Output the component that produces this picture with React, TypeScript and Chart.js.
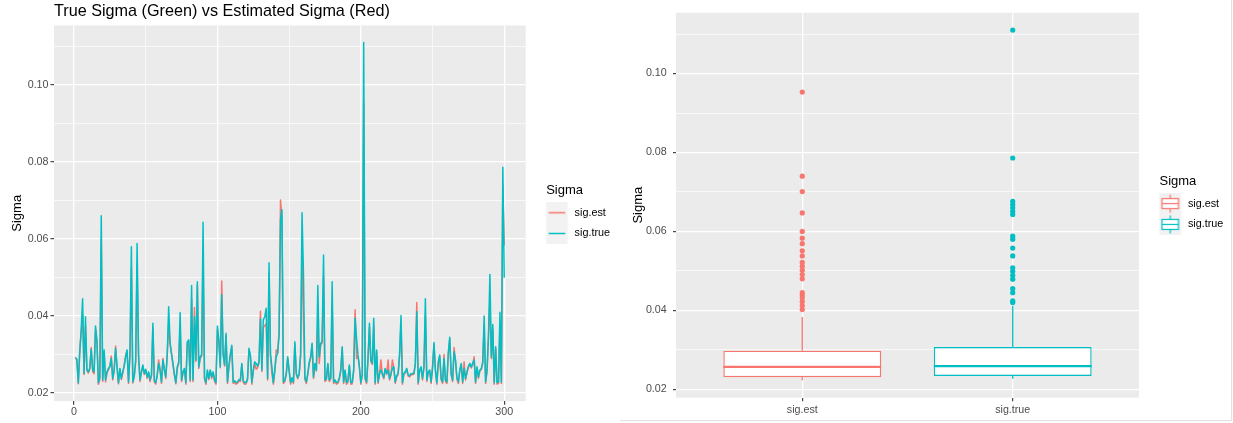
import React, { useEffect, useRef } from 'react';
import { Chart, registerables } from 'chart.js';

Chart.register(...registerables);

// ---------------- data ----------------
const sigTrue = [
  0.0293, 0.0286, 0.0227, 0.0305, 0.0365, 0.0445, 0.0251, 0.0398, 0.0262, 0.0255,
  0.0265, 0.0314, 0.0262, 0.0255, 0.0374, 0.0336, 0.0227, 0.0240, 0.0660, 0.0234,
  0.0312, 0.0234, 0.0255, 0.0264, 0.0268, 0.0290, 0.0238, 0.0260, 0.0316, 0.0270,
  0.0227, 0.0264, 0.0238, 0.0255, 0.0270, 0.0294, 0.0312, 0.0229, 0.0300, 0.0580,
  0.0229, 0.0245, 0.0285, 0.0588, 0.0300, 0.0234, 0.0255, 0.0273, 0.0251, 0.0262,
  0.0242, 0.0255, 0.0234, 0.0247, 0.0381, 0.0233, 0.0227, 0.0245, 0.0277, 0.0260,
  0.0229, 0.0286, 0.0262, 0.0242, 0.0300, 0.0424, 0.0330, 0.0303, 0.0277, 0.0250,
  0.0227, 0.0268, 0.0280, 0.0409, 0.0234, 0.0255, 0.0264, 0.0227, 0.0333, 0.0338,
  0.0234, 0.0479, 0.0234, 0.0398, 0.0286, 0.0489, 0.0268, 0.0294, 0.0300, 0.0643,
  0.0240, 0.0227, 0.0260, 0.0238, 0.0260, 0.0242, 0.0255, 0.0235, 0.0227, 0.0374,
  0.0338, 0.0268, 0.0455, 0.0300, 0.0273, 0.0355, 0.0229, 0.0270, 0.0300, 0.0324,
  0.0229, 0.0232, 0.0227, 0.0229, 0.0235, 0.0234, 0.0277, 0.0232, 0.0227, 0.0228,
  0.0238, 0.0316, 0.0299, 0.0227, 0.0260, 0.0281, 0.0277, 0.0270, 0.0281, 0.0392,
  0.0260, 0.0390, 0.0398, 0.0420, 0.0238, 0.0538, 0.0300, 0.0268, 0.0227, 0.0260,
  0.0294, 0.0303, 0.0350, 0.0651, 0.0676, 0.0229, 0.0234, 0.0250, 0.0294, 0.0260,
  0.0227, 0.0240, 0.0229, 0.0333, 0.0251, 0.0240, 0.0251, 0.0300, 0.0668, 0.0508,
  0.0240, 0.0229, 0.0251, 0.0280, 0.0294, 0.0329, 0.0242, 0.0277, 0.0260, 0.0479,
  0.0294, 0.0329, 0.0335, 0.0558, 0.0234, 0.0238, 0.0277, 0.0234, 0.0240, 0.0489,
  0.0229, 0.0234, 0.0227, 0.0229, 0.0240, 0.0260, 0.0320, 0.0229, 0.0260, 0.0227,
  0.0232, 0.0273, 0.0227, 0.0228, 0.0260, 0.0394, 0.0342, 0.0299, 0.0270, 0.0227,
  0.0250, 0.1110, 0.0240, 0.0229, 0.0290, 0.0381, 0.0286, 0.0277, 0.0394, 0.0227,
  0.0312, 0.0229, 0.0250, 0.0260, 0.0251, 0.0240, 0.0264, 0.0251, 0.0260, 0.0238,
  0.0250, 0.0264, 0.0268, 0.0229, 0.0245, 0.0251, 0.0300, 0.0401, 0.0227, 0.0251,
  0.0255, 0.0264, 0.0247, 0.0245, 0.0250, 0.0251, 0.0251, 0.0277, 0.0411, 0.0227,
  0.0260, 0.0268, 0.0238, 0.0268, 0.0445, 0.0234, 0.0255, 0.0260, 0.0229, 0.0268,
  0.0331, 0.0260, 0.0227, 0.0280, 0.0299, 0.0238, 0.0229, 0.0290, 0.0234, 0.0229,
  0.0305, 0.0345, 0.0250, 0.0234, 0.0307, 0.0286, 0.0240, 0.0229, 0.0260, 0.0277,
  0.0229, 0.0264, 0.0238, 0.0255, 0.0270, 0.0277, 0.0268, 0.0277, 0.0286, 0.0229,
  0.0268, 0.0242, 0.0260, 0.0264, 0.0280, 0.0400, 0.0229, 0.0260, 0.0350, 0.0508,
  0.0294, 0.0378, 0.0227, 0.0320, 0.0227, 0.0229, 0.0410, 0.0229, 0.0786, 0.0499,
];

const sigEst = [
  0.0290, 0.0288, 0.0224, 0.0312, 0.0355, 0.0402, 0.0248, 0.0372, 0.0258, 0.0252,
  0.0262, 0.0318, 0.0256, 0.0250, 0.0366, 0.0330, 0.0223, 0.0236, 0.0600, 0.0230,
  0.0305, 0.0229, 0.0252, 0.0260, 0.0270, 0.0296, 0.0234, 0.0258, 0.0322, 0.0265,
  0.0224, 0.0262, 0.0235, 0.0252, 0.0272, 0.0298, 0.0310, 0.0225, 0.0296, 0.0522,
  0.0226, 0.0242, 0.0280, 0.0538, 0.0294, 0.0230, 0.0254, 0.0270, 0.0248, 0.0259,
  0.0238, 0.0252, 0.0230, 0.0244, 0.0368, 0.0229, 0.0223, 0.0248, 0.0286, 0.0262,
  0.0225, 0.0290, 0.0258, 0.0238, 0.0296, 0.0380, 0.0326, 0.0300, 0.0274, 0.0246,
  0.0224, 0.0264, 0.0276, 0.0378, 0.0230, 0.0252, 0.0260, 0.0223, 0.0328, 0.0334,
  0.0230, 0.0445, 0.0230, 0.0422, 0.0282, 0.0480, 0.0264, 0.0290, 0.0296, 0.0551,
  0.0236, 0.0223, 0.0257, 0.0235, 0.0258, 0.0238, 0.0252, 0.0231, 0.0223, 0.0365,
  0.0334, 0.0266, 0.0491, 0.0303, 0.0270, 0.0350, 0.0225, 0.0267, 0.0298, 0.0320,
  0.0225, 0.0228, 0.0223, 0.0225, 0.0232, 0.0230, 0.0274, 0.0228, 0.0223, 0.0224,
  0.0234, 0.0312, 0.0296, 0.0223, 0.0256, 0.0278, 0.0262, 0.0266, 0.0278, 0.0412,
  0.0256, 0.0370, 0.0375, 0.0380, 0.0234, 0.0512, 0.0296, 0.0251, 0.0223, 0.0257,
  0.0312, 0.0305, 0.0360, 0.0701, 0.0647, 0.0225, 0.0230, 0.0247, 0.0290, 0.0257,
  0.0223, 0.0237, 0.0225, 0.0328, 0.0248, 0.0237, 0.0248, 0.0296, 0.0569, 0.0383,
  0.0236, 0.0225, 0.0248, 0.0276, 0.0290, 0.0325, 0.0238, 0.0274, 0.0257, 0.0380,
  0.0277, 0.0325, 0.0330, 0.0502, 0.0230, 0.0234, 0.0274, 0.0230, 0.0236, 0.0432,
  0.0225, 0.0230, 0.0223, 0.0225, 0.0236, 0.0257, 0.0316, 0.0225, 0.0257, 0.0223,
  0.0228, 0.0270, 0.0223, 0.0224, 0.0257, 0.0416, 0.0290, 0.0296, 0.0266, 0.0223,
  0.0246, 0.0953, 0.0236, 0.0225, 0.0286, 0.0370, 0.0282, 0.0274, 0.0375, 0.0223,
  0.0308, 0.0225, 0.0247, 0.0286, 0.0248, 0.0237, 0.0262, 0.0248, 0.0286, 0.0234,
  0.0247, 0.0286, 0.0265, 0.0225, 0.0242, 0.0248, 0.0296, 0.0380, 0.0223, 0.0248,
  0.0252, 0.0261, 0.0244, 0.0242, 0.0247, 0.0248, 0.0249, 0.0274, 0.0435, 0.0223,
  0.0257, 0.0265, 0.0234, 0.0265, 0.0402, 0.0230, 0.0252, 0.0257, 0.0225, 0.0265,
  0.0326, 0.0257, 0.0223, 0.0277, 0.0296, 0.0234, 0.0225, 0.0300, 0.0230, 0.0225,
  0.0302, 0.0340, 0.0247, 0.0230, 0.0318, 0.0283, 0.0236, 0.0225, 0.0257, 0.0274,
  0.0225, 0.0281, 0.0234, 0.0252, 0.0267, 0.0274, 0.0265, 0.0274, 0.0294, 0.0225,
  0.0265, 0.0238, 0.0257, 0.0261, 0.0277, 0.0378, 0.0225, 0.0257, 0.0345, 0.0439,
  0.0290, 0.0365, 0.0223, 0.0316, 0.0223, 0.0225, 0.0383, 0.0225, 0.0740, 0.0583,
];

// observation number of each value (1..300)
const obsIndex = sigTrue.map((_, i) => i + 1);

const seriesNames = ['sig.est', 'sig.true'];
const lineTitle = 'True Sigma (Green) vs Estimated Sigma (Red)';
const axisTitle = 'Sigma';

const xMajorTicks = [0, 100, 200, 300];
const xTickLabels = ['0', '100', '200', '300'];
const xMinorTicks = [50, 150, 250];
const yMajorTicks = [0.02, 0.04, 0.06, 0.08, 0.1];
const yTickLabels = ['0.02', '0.04', '0.06', '0.08', '0.10'];
const yMinorTicks = [0.03, 0.05, 0.07, 0.09, 0.11];

// boxplot summary
const boxCategories = ['sig.est', 'sig.true'];
const boxLower = [0.0223, 0.0227];
const boxQ1 = [0.0231, 0.0234];
const boxMedian = [0.0257, 0.0259];
const boxQ3 = [0.0298, 0.0307];
const boxUpper = [0.0383, 0.0412];
const estOutliers = [
  0.0953, 0.074, 0.0701, 0.0647, 0.06, 0.0583, 0.0569, 0.0551, 0.0538, 0.0522,
  0.0512, 0.0502, 0.0491, 0.048, 0.0445, 0.0439, 0.0432, 0.0422, 0.0412, 0.0402,
];
const trueOutliers = [
  0.111, 0.0786, 0.0676, 0.0668, 0.066, 0.0651, 0.0643, 0.0588, 0.058, 0.0558,
  0.0538, 0.0508, 0.0499, 0.0489, 0.0479, 0.0455, 0.0445, 0.0424, 0.042,
];

// ---------------- styles ----------------
const FONT = '"Liberation Sans", Arial, Helvetica, sans-serif';
const RED = '#F8766D';
const CYAN = '#00BFC4';
const PANEL = '#EBEBEB';
const KEY_BG = '#F2F2F2';
const AXIS_TEXT = '#4D4D4D';
const TICK_COLOR = '#333333';
const BOX_WIDTH = 0.75;

const panelBackground = {
  id: 'panelBackground',
  beforeDraw(chart: any) {
    const { ctx, chartArea: a } = chart;
    ctx.save();
    ctx.fillStyle = PANEL;
    ctx.fillRect(a.left, a.top, a.right - a.left, a.bottom - a.top);
    ctx.restore();
  },
};

function gridOpts(majors: number[], tickLength: number) {
  const isMajor = (c: any) => !!c.tick && majors.indexOf(c.tick.value) >= 0;
  return {
    display: true,
    drawOnChartArea: true,
    drawTicks: true,
    offset: false,
    tickLength,
    color: '#FFFFFF',
    lineWidth: (c: any) => (isMajor(c) ? 1.3 : 0.65),
    tickColor: (c: any) => (isMajor(c) ? TICK_COLOR : 'rgba(0,0,0,0)'),
    tickWidth: 1.1,
  };
}

function labelFor(majors: number[], labels: string[]) {
  return (v: any) => {
    const i = majors.indexOf(v);
    return i >= 0 ? labels[i] : '';
  };
}

function lineKey(color: string) {
  const c = document.createElement('canvas');
  c.width = 33;
  c.height = 21;
  const g = c.getContext('2d') as CanvasRenderingContext2D;
  g.fillStyle = KEY_BG;
  g.fillRect(0, 0, 21.5, 21);
  g.strokeStyle = color;
  g.lineWidth = 1.5;
  g.beginPath();
  g.moveTo(2.5, 10.5);
  g.lineTo(19, 10.5);
  g.stroke();
  return c;
}

function boxKey(color: string) {
  const c = document.createElement('canvas');
  c.width = 33;
  c.height = 21;
  const g = c.getContext('2d') as CanvasRenderingContext2D;
  g.fillStyle = KEY_BG;
  g.fillRect(0, 0, 21.5, 21);
  g.strokeStyle = color;
  g.lineWidth = 1.2;
  g.beginPath();
  g.moveTo(10.75, 1.5);
  g.lineTo(10.75, 5.5);
  g.moveTo(10.75, 15.5);
  g.lineTo(10.75, 19.5);
  g.stroke();
  g.fillStyle = '#FFFFFF';
  g.fillRect(2.5, 5.5, 16.5, 10);
  g.strokeRect(2.5, 5.5, 16.5, 10);
  g.beginPath();
  g.moveTo(2.5, 10.5);
  g.lineTo(19, 10.5);
  g.stroke();
  return c;
}

function legendOpts(keys: any[], titleTop: number, titleBottom: number) {
  return {
    display: true,
    position: 'right',
    align: 'start',
    onClick: () => {},
    title: {
      display: true,
      text: axisTitle,
      position: 'start',
      color: '#000000',
      font: { family: FONT, size: 13, lineHeight: 1 },
      padding: { top: titleTop, bottom: titleBottom },
    },
    labels: {
      usePointStyle: true,
      pointStyleWidth: 13,
      padding: 10,
      color: '#000000',
      font: { family: FONT, size: 10.8 },
      generateLabels: () =>
        seriesNames.map((name, i) => ({
          text: name,
          pointStyle: keys[i],
          fillStyle: 'rgba(0,0,0,0)',
          strokeStyle: 'rgba(0,0,0,0)',
          lineWidth: 0,
          hidden: false,
          datasetIndex: i,
        })),
    },
  };
}

function gapAxis(width: number) {
  return {
    type: 'linear',
    axis: 'y',
    position: 'right',
    display: true,
    grid: { display: false, drawTicks: false },
    border: { display: false },
    ticks: { display: false },
    afterFit: (s: any) => {
      s.width = width;
    },
  };
}

function yAxis(titlePad: number, tickPad: number, tickLength: number) {
  return {
    type: 'linear',
    position: 'left',
    min: 0.0179,
    max: 0.1154,
    bounds: 'data',
    beginAtZero: false,
    afterBuildTicks: (s: any) => {
      s.ticks = [...yMajorTicks, ...yMinorTicks].sort((a, b) => a - b).map((v) => ({ value: v }));
    },
    afterFit: (s: any) => {
      s.width = 54;
    },
    ticks: {
      autoSkip: false,
      padding: tickPad,
      color: AXIS_TEXT,
      font: { family: FONT, size: 10.7 },
      callback: labelFor(yMajorTicks, yTickLabels),
    },
    grid: gridOpts(yMajorTicks, tickLength),
    border: { display: false },
    title: {
      display: true,
      text: axisTitle,
      color: '#000000',
      font: { family: FONT, size: 13 },
      padding: { top: titlePad, bottom: 0 },
    },
  };
}

function leftConfig(keys: any[]): any {
  return {
    type: 'line',
    data: {
      datasets: [
        {
          label: seriesNames[1],
          data: obsIndex.map((t, i) => ({ x: t, y: sigTrue[i] })),
          borderColor: CYAN,
          backgroundColor: CYAN,
          borderWidth: 1.5,
          pointRadius: 0,
          tension: 0,
          borderJoinStyle: 'round',
          fill: false,
        },
        {
          label: seriesNames[0],
          data: obsIndex.map((t, i) => ({ x: t, y: sigEst[i] })),
          borderColor: RED,
          backgroundColor: RED,
          borderWidth: 1.5,
          pointRadius: 0,
          tension: 0,
          borderJoinStyle: 'round',
          fill: false,
        },
      ],
    },
    options: {
      responsive: false,
      animation: false,
      devicePixelRatio: 1,
      events: [],
      layout: { padding: { left: 0, right: 0, top: 0, bottom: 4.5 } },
      scales: {
        x: {
          type: 'linear',
          position: 'bottom',
          min: -13.95,
          max: 314.95,
          bounds: 'data',
          offset: false,
          afterBuildTicks: (s: any) => {
            s.ticks = [...xMajorTicks, ...xMinorTicks].sort((a, b) => a - b).map((v) => ({ value: v }));
          },
          ticks: {
            autoSkip: false,
            maxRotation: 0,
            padding: 0.5,
            color: AXIS_TEXT,
            font: { family: FONT, size: 10.7 },
            callback: labelFor(xMajorTicks, xTickLabels),
          },
          grid: gridOpts(xMajorTicks, 3.5),
          border: { display: false },
        },
        y: yAxis(9.5, 2, 3.5),
        gap: gapAxis(20.5),
      },
      plugins: {
        title: {
          display: true,
          text: lineTitle,
          align: 'start',
          fullSize: false,
          color: '#000000',
          font: { family: FONT, size: 16.2, weight: 'normal', lineHeight: 1.2 },
          padding: { top: 2, bottom: 4 },
        },
        legend: legendOpts(keys, 183.5, 0.8),
        tooltip: { enabled: false },
      },
    },
    plugins: [panelBackground],
  };
}

function rightConfig(keys: any[]): any {
  const colors = [RED, CYAN];
  const outliers = [estOutliers, trueOutliers];
  const datasets: any[] = [];
  boxCategories.forEach((_, i) => {
    datasets.push({
      type: 'scatter',
      data: outliers[i].map((v) => ({ x: i + 1, y: v })),
      pointRadius: 2.6,
      pointBackgroundColor: colors[i],
      pointBorderWidth: 0,
      order: 0,
    });
    datasets.push({
      type: 'line',
      data: [
        { x: i + 1 - BOX_WIDTH / 2, y: boxMedian[i] },
        { x: i + 1 + BOX_WIDTH / 2, y: boxMedian[i] },
      ],
      borderColor: colors[i],
      borderWidth: 2.2,
      pointRadius: 0,
      fill: false,
      order: 1,
    });
    datasets.push({
      type: 'line',
      data: [
        { x: i + 1, y: boxLower[i] },
        { x: i + 1, y: boxQ1[i] },
        { x: i + 1, y: null },
        { x: i + 1, y: boxQ3[i] },
        { x: i + 1, y: boxUpper[i] },
      ],
      borderColor: colors[i],
      borderWidth: 1.3,
      pointRadius: 0,
      spanGaps: false,
      fill: false,
      order: 2,
    });
  });
  datasets.push({
    type: 'bar',
    data: boxCategories.map((_, i) => ({ x: i + 1, y: [boxQ1[i], boxQ3[i]] })),
    backgroundColor: '#FFFFFF',
    borderColor: colors,
    borderWidth: 1.4,
    borderSkipped: false,
    barPercentage: BOX_WIDTH,
    categoryPercentage: 1,
    order: 3,
  });

  return {
    type: 'scatter',
    data: { datasets },
    options: {
      responsive: false,
      animation: false,
      devicePixelRatio: 1,
      events: [],
      layout: { padding: { left: 0, right: 0.7, top: 9, bottom: 1.0 } },
      scales: {
        x: {
          type: 'linear',
          position: 'bottom',
          min: 0.4,
          max: 2.6,
          bounds: 'data',
          offset: false,
          afterBuildTicks: (s: any) => {
            s.ticks = boxCategories.map((_, i) => ({ value: i + 1 }));
          },
          ticks: {
            autoSkip: false,
            maxRotation: 0,
            padding: 2.5,
            color: AXIS_TEXT,
            font: { family: FONT, size: 10.7 },
            callback: (v: any) => boxCategories[v - 1] || '',
          },
          grid: gridOpts(boxCategories.map((_, i) => i + 1), 3.5),
          border: { display: false },
        },
        y: yAxis(8.5, 6.3, 3),
        gap: gapAxis(20.5),
      },
      plugins: {
        title: { display: false },
        legend: legendOpts(keys, 166.2, 0),
        tooltip: { enabled: false },
      },
    },
    plugins: [panelBackground],
  };
}

export default function App() {
  const leftRef = useRef<HTMLCanvasElement>(null);
  const rightRef = useRef<HTMLCanvasElement>(null);

  useEffect(() => {
    const lineKeys = [lineKey(RED), lineKey(CYAN)];
    const boxKeys = [boxKey(RED), boxKey(CYAN)];
    const c1 = new Chart(leftRef.current as HTMLCanvasElement, leftConfig(lineKeys));
    const c2 = new Chart(rightRef.current as HTMLCanvasElement, rightConfig(boxKeys));
    return () => {
      c1.destroy();
      c2.destroy();
    };
  }, []);

  return (
    <div
      style={{
        position: 'fixed',
        left: 0,
        top: 0,
        width: 1233,
        height: 423,
        background: '#FFFFFF',
        overflow: 'hidden',
      }}
    >
      <canvas
        ref={leftRef}
        width={620}
        height={423}
        style={{ position: 'absolute', left: 0, top: 0, width: 620, height: 423 }}
      />
      <canvas
        ref={rightRef}
        width={612}
        height={420}
        style={{ position: 'absolute', left: 622, top: 0, width: 612, height: 420 }}
      />
      <div style={{ position: 'absolute', left: 620, top: 420, width: 612, height: 1, background: '#E2E2E2' }} />
      <div style={{ position: 'absolute', left: 1231, top: 0, width: 1, height: 421, background: '#E2E2E2' }} />
    </div>
  );
}
